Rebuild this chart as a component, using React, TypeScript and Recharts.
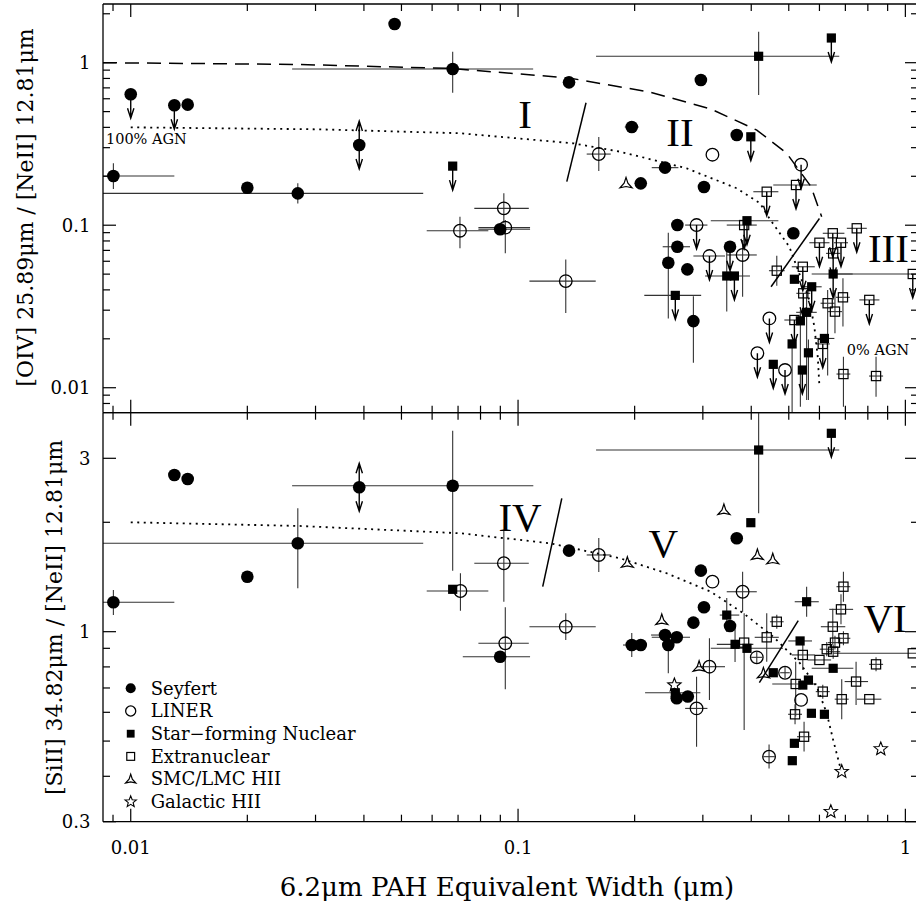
import React from "react";
import { ScatterChart, Scatter, XAxis, YAxis, ErrorBar, Legend } from "recharts";

type Pt = {
  x: number;
  y: number;
  xlo?: number;
  xhi?: number;
  ylo?: number;
  yhi?: number;
  lim?: "up" | "both";
};
type Txt = { x: number; y: number; text: string };

const FONT = '"DejaVu Serif", serif';
const ROMAN = '"Liberation Serif", "Times New Roman", serif';
const INK = "#000";
const BAR = "#333";

// shared x axis (6.2um PAH EW)
const X_DOMAIN: [number, number] = [0.00848, 1.078];
const X_TICKS = [0.009, 0.01, 0.02, 0.03, 0.04, 0.05, 0.06, 0.07, 0.08, 0.09, 0.1, 0.2, 0.3, 0.4, 0.5, 0.6, 0.7, 0.8, 0.9, 1];
const X_MAJOR = [0.01, 0.1, 1];

// top panel: [OIV]/[NeII]
const OIV_DOMAIN: [number, number] = [0.00702, 2.297];
const OIV_TICKS = [0.008, 0.009, 0.01, 0.02, 0.03, 0.04, 0.05, 0.06, 0.07, 0.08, 0.09, 0.1, 0.2, 0.3, 0.4, 0.5, 0.6, 0.7, 0.8, 0.9, 1, 2];
const OIV_MAJOR = [0.01, 0.1, 1];

// bottom panel: [SiII]/[NeII]
const SII_DOMAIN: [number, number] = [0.3, 4.005];
const SII_TICKS = [0.3, 0.4, 0.5, 0.6, 0.7, 0.8, 0.9, 1, 2, 3];
const SII_MAJOR = [0.3, 1, 3];

const oivSeyfert: Pt[] = [
  { x: 0.01, y: 0.639, lim: "up" },
  { x: 0.01296, y: 0.547, lim: "up" },
  { x: 0.01403, y: 0.552 },
  { x: 0.00902, y: 0.201, xlo: 0.00848, xhi: 0.01296, ylo: 0.167, yhi: 0.241 },
  { x: 0.02, y: 0.17 },
  { x: 0.027, y: 0.157, xlo: 0.00848, xhi: 0.0569, ylo: 0.136, yhi: 0.181 },
  { x: 0.048, y: 1.73 },
  { x: 0.0678, y: 0.915, xlo: 0.0261, xhi: 0.1094, ylo: 0.653, yhi: 1.169 },
  { x: 0.1354, y: 0.757 },
  { x: 0.0389, y: 0.3115, lim: "both" },
  { x: 0.0899, y: 0.0944, xlo: 0.079, xhi: 0.1074 },
  { x: 0.2965, y: 0.782 },
  { x: 0.1966, y: 0.402, xlo: 0.1886, xhi: 0.2049 },
  { x: 0.367, y: 0.359 },
  { x: 0.2396, y: 0.226, xlo: 0.2214, xhi: 0.2594 },
  { x: 0.2074, y: 0.181 },
  { x: 0.302, y: 0.1718 },
  { x: 0.2578, y: 0.1002 },
  { x: 0.2578, y: 0.0737, xlo: 0.2363, xhi: 0.278 },
  { x: 0.2443, y: 0.0588, ylo: 0.0267, yhi: 0.0899 },
  { x: 0.2736, y: 0.0535 },
  { x: 0.2836, y: 0.0257, ylo: 0.01425, yhi: 0.0366 },
  { x: 0.3526, y: 0.0737, lim: "up" },
  { x: 0.5137, y: 0.0892 },
];

const oivLiner: Pt[] = [
  { x: 0.1616, y: 0.274, xlo: 0.1504, xhi: 0.1735, ylo: 0.2156, yhi: 0.349 },
  { x: 0.0919, y: 0.127, xlo: 0.0771, xhi: 0.1066, ylo: 0.1028, yhi: 0.157 },
  { x: 0.0927, y: 0.0966, xlo: 0.079, xhi: 0.1074, ylo: 0.0671, yhi: 0.1078 },
  { x: 0.0708, y: 0.0925, xlo: 0.0581, xhi: 0.0838, ylo: 0.0722, yhi: 0.1128 },
  { x: 0.1328, y: 0.0453, xlo: 0.107, xhi: 0.1587, ylo: 0.0288, yhi: 0.0616 },
  { x: 0.3176, y: 0.2716 },
  { x: 0.538, y: 0.2357, lim: "up" },
  { x: 0.289, y: 0.1002, xlo: 0.27, xhi: 0.3083, lim: "up" },
  { x: 0.312, y: 0.0646, xlo: 0.2836, xhi: 0.3423, lim: "up" },
  { x: 0.38, y: 0.0656, xlo: 0.3458, xhi: 0.4134, ylo: 0.0363, yhi: 0.0811 },
  { x: 0.4456, y: 0.0267, lim: "up" },
  { x: 0.4149, y: 0.0163, lim: "up" },
  { x: 0.489, y: 0.01285, lim: "up" },
];

const oivNuclear: Pt[] = [
  { x: 0.0678, y: 0.231, lim: "up" },
  { x: 0.418, y: 1.095, xlo: 0.159, xhi: 0.675, ylo: 0.633, yhi: 1.552 },
  { x: 0.644, y: 1.419, lim: "up" },
  { x: 0.399, y: 0.35, lim: "up" },
  { x: 0.2547, y: 0.037, xlo: 0.2118, xhi: 0.297, lim: "up" },
  { x: 0.3458, y: 0.0487, xlo: 0.304, xhi: 0.397, ylo: 0.0294, yhi: 0.0737 },
  { x: 0.3619, y: 0.0487, lim: "up" },
  { x: 0.39, y: 0.1066, xlo: 0.3145, xhi: 0.47, lim: "up" },
  { x: 0.456, y: 0.01393, lim: "up" },
  { x: 0.542, y: 0.01285, lim: "up" },
  { x: 0.651, y: 0.0501, xlo: 0.573, xhi: 0.731, lim: "up" },
  { x: 0.517, y: 0.0465 },
  { x: 0.573, y: 0.0418, xlo: 0.54, xhi: 0.608, lim: "up" },
  { x: 0.556, y: 0.0291, xlo: 0.5225, xhi: 0.5905, ylo: 0.0084, yhi: 0.0399 },
  { x: 0.5357, y: 0.0258, ylo: 0.00764, yhi: 0.03 },
  { x: 0.618, y: 0.0201, xlo: 0.582, xhi: 0.6557 },
  { x: 0.51, y: 0.0186, ylo: 0.00705, yhi: 0.0186 },
  { x: 0.562, y: 0.0164, ylo: 0.0084, yhi: 0.0198 },
];

const oivExtra: Pt[] = [
  { x: 0.4386, y: 0.1607, xlo: 0.405, xhi: 0.47, lim: "up" },
  { x: 0.522, y: 0.1768, xlo: 0.456, xhi: 0.5905, lim: "up" },
  { x: 0.3835, y: 0.1002, xlo: 0.3458, xhi: 0.4134, lim: "up" },
  { x: 0.6, y: 0.078, xlo: 0.565, xhi: 0.637, lim: "up" },
  { x: 0.6495, y: 0.0892, xlo: 0.612, xhi: 0.696, lim: "up" },
  { x: 0.682, y: 0.078, xlo: 0.654, xhi: 0.711, lim: "up" },
  { x: 0.749, y: 0.0957, xlo: 0.706, xhi: 0.795, lim: "up" },
  { x: 0.651, y: 0.0671, xlo: 0.624, xhi: 0.679, lim: "up" },
  { x: 0.5435, y: 0.0555, xlo: 0.509, xhi: 0.5836, lim: "up" },
  { x: 0.4656, y: 0.0525, xlo: 0.4444, xhi: 0.488, ylo: 0.0424, yhi: 0.0648 },
  { x: 1.045, y: 0.0501, xlo: 0.65, xhi: 1.07, lim: "up" },
  { x: 0.545, y: 0.0381, xlo: 0.523, xhi: 0.568, lim: "up" },
  { x: 0.517, y: 0.0261, xlo: 0.487, xhi: 0.5485, lim: "up" },
  { x: 0.63, y: 0.0331, xlo: 0.604, xhi: 0.657, ylo: 0.0119, yhi: 0.0399 },
  { x: 0.69, y: 0.036, xlo: 0.662, xhi: 0.719, ylo: 0.0238, yhi: 0.0471 },
  { x: 0.658, y: 0.0294, xlo: 0.631, xhi: 0.686, ylo: 0.0216, yhi: 0.0399 },
  { x: 0.612, y: 0.0186, xlo: 0.587, xhi: 0.638, lim: "up" },
  { x: 0.692, y: 0.01214, xlo: 0.664, xhi: 0.721, ylo: 0.00764, yhi: 0.0155 },
  { x: 0.84, y: 0.0118, xlo: 0.806, xhi: 0.876, ylo: 0.0088, yhi: 0.0155 },
  { x: 0.807, y: 0.0347, xlo: 0.7606, xhi: 0.857, lim: "up" },
];

const oivSmc: Pt[] = [{ x: 0.19, y: 0.181 }];

// mixing curves and region dividers
const oivDashed = [
  { x: 0.00848, y: 1.0 }, { x: 0.0273, y: 0.975 }, { x: 0.0675, y: 0.921 }, { x: 0.1354, y: 0.805 },
  { x: 0.219, y: 0.66 }, { x: 0.3145, y: 0.519 }, { x: 0.4134, y: 0.385 }, { x: 0.494, y: 0.277 },
  { x: 0.5707, y: 0.1727 }, { x: 0.608, y: 0.1128 },
];
const oivDotted = [
  { x: 0.01, y: 0.4 }, { x: 0.0308, y: 0.389 }, { x: 0.0708, y: 0.368 }, { x: 0.139, y: 0.319 },
  { x: 0.1834, y: 0.2834 }, { x: 0.2727, y: 0.2237 }, { x: 0.367, y: 0.1687 }, { x: 0.4214, y: 0.1365 },
  { x: 0.4456, y: 0.11 }, { x: 0.5017, y: 0.0737 }, { x: 0.532, y: 0.0506 }, { x: 0.565, y: 0.0347 },
  { x: 0.582, y: 0.0238 }, { x: 0.594, y: 0.0155 }, { x: 0.6, y: 0.01015 },
];
const oivSplitA = [{ x: 0.1498, y: 0.567 }, { x: 0.1336, y: 0.1855 }];
const oivSplitB = [{ x: 0.6, y: 0.11 }, { x: 0.45, y: 0.0418 }];
const oivRegions: Txt[] = [
  { x: 0.1042, y: 0.4833, text: "I" },
  { x: 0.2619, y: 0.3762, text: "II" },
  { x: 0.904, y: 0.0721, text: "III" },
];
const oivNotes: Txt[] = [
  { x: 0.00863, y: 0.3378, text: "100% AGN" },
  { x: 0.706, y: 0.01706, text: "0% AGN" },
];

const siiSeyfert: Pt[] = [
  { x: 0.00902, y: 1.205, xlo: 0.00848, xhi: 0.01296, ylo: 1.111, yhi: 1.302 },
  { x: 0.01296, y: 2.699 },
  { x: 0.01403, y: 2.632 },
  { x: 0.02, y: 1.417 },
  { x: 0.027, y: 1.751, xlo: 0.00848, xhi: 0.0569, ylo: 1.316, yhi: 2.186 },
  { x: 0.0389, y: 2.497, lim: "both" },
  { x: 0.0678, y: 2.522, xlo: 0.0261, xhi: 0.1095, ylo: 1.472, yhi: 3.573 },
  { x: 0.0899, y: 0.853, xlo: 0.072, xhi: 0.1074 },
  { x: 0.1354, y: 1.671 },
  { x: 0.367, y: 1.807 },
  { x: 0.2965, y: 1.472 },
  { x: 0.302, y: 1.167 },
  { x: 0.2836, y: 1.059 },
  { x: 0.3526, y: 1.037 },
  { x: 0.2396, y: 0.979, xlo: 0.2205, xhi: 0.2604 },
  { x: 0.2569, y: 0.965, xlo: 0.2214, xhi: 0.278 },
  { x: 0.2443, y: 0.919, ylo: 0.768, yhi: 1.011 },
  { x: 0.1966, y: 0.919, xlo: 0.1866, xhi: 0.207, ylo: 0.852, yhi: 0.992 },
  { x: 0.2074, y: 0.919 },
  { x: 0.2569, y: 0.656 },
  { x: 0.2743, y: 0.663 },
];

const siiLiner: Pt[] = [
  { x: 0.071, y: 1.294, xlo: 0.0581, xhi: 0.0838, ylo: 1.142, yhi: 1.448 },
  { x: 0.0919, y: 1.543, xlo: 0.0771, xhi: 0.1066, ylo: 1.209, yhi: 1.892 },
  { x: 0.0927, y: 0.929, xlo: 0.079, xhi: 0.1066, ylo: 0.694, yhi: 1.167 },
  { x: 0.1328, y: 1.032, xlo: 0.107, xhi: 0.1587, ylo: 0.949, yhi: 1.124 },
  { x: 0.1616, y: 1.626, xlo: 0.1504, xhi: 0.1735, ylo: 1.459, yhi: 1.811 },
  { x: 0.3176, y: 1.373 },
  { x: 0.38, y: 1.288, xlo: 0.3458, xhi: 0.4134, ylo: 1.135, yhi: 1.463 },
  { x: 0.4134, y: 0.85, xlo: 0.4, xhi: 0.427, ylo: 0.82, yhi: 0.88 },
  { x: 0.312, y: 0.801, xlo: 0.289, xhi: 0.3423, ylo: 0.649, yhi: 0.959 },
  { x: 0.289, y: 0.615, xlo: 0.27, xhi: 0.3083, ylo: 0.4825, yhi: 0.752 },
  { x: 0.489, y: 0.771, xlo: 0.475, xhi: 0.503, ylo: 0.745, yhi: 0.8 },
  { x: 0.538, y: 0.649 },
  { x: 0.4447, y: 0.453, xlo: 0.43, xhi: 0.46, ylo: 0.42, yhi: 0.489 },
];

const siiNuclear: Pt[] = [
  { x: 0.418, y: 3.162, xlo: 0.159, xhi: 0.675, ylo: 2.118, yhi: 4.0 },
  { x: 0.644, y: 3.515, lim: "up" },
  { x: 0.399, y: 1.995 },
  { x: 0.0678, y: 1.308 },
  { x: 0.3458, y: 1.111, xlo: 0.3317, xhi: 0.3725, ylo: 0.998, yhi: 1.238 },
  { x: 0.3633, y: 0.923, xlo: 0.326, xhi: 0.405, ylo: 0.825, yhi: 1.037 },
  { x: 0.39, y: 0.9, xlo: 0.3145, xhi: 0.483 },
  { x: 0.2547, y: 0.679, xlo: 0.2128, xhi: 0.2956 },
  { x: 0.556, y: 1.209, xlo: 0.518, xhi: 0.5976, ylo: 1.1, yhi: 1.33 },
  { x: 0.5348, y: 0.943, xlo: 0.4986, xhi: 0.574 },
  { x: 0.651, y: 0.793, xlo: 0.573, xhi: 0.734 },
  { x: 0.456, y: 0.771 },
  { x: 0.562, y: 0.736 },
  { x: 0.5435, y: 0.713 },
  { x: 0.572, y: 0.5963 },
  { x: 0.618, y: 0.5925 },
  { x: 0.517, y: 0.493 },
  { x: 0.5106, y: 0.4416 },
];

const siiExtra: Pt[] = [
  { x: 0.692, y: 1.33, xlo: 0.664, xhi: 0.721, ylo: 1.209, yhi: 1.463 },
  { x: 0.682, y: 1.152, xlo: 0.636, xhi: 0.733, ylo: 1.048, yhi: 1.267 },
  { x: 0.6495, y: 1.032, xlo: 0.605, xhi: 0.6996, ylo: 0.921, yhi: 1.157 },
  { x: 0.692, y: 0.959, xlo: 0.664, xhi: 0.721, ylo: 0.918, yhi: 1.002 },
  { x: 0.658, y: 0.933, xlo: 0.631, xhi: 0.686, ylo: 0.893, yhi: 0.975 },
  { x: 0.6267, y: 0.895, xlo: 0.601, xhi: 0.653, ylo: 0.856, yhi: 0.936 },
  { x: 0.651, y: 0.881, xlo: 0.624, xhi: 0.679, ylo: 0.843, yhi: 0.921 },
  { x: 1.045, y: 0.872, xlo: 0.65, xhi: 1.07 },
  { x: 0.6, y: 0.836, xlo: 0.5593, xhi: 0.643 },
  { x: 0.84, y: 0.813, xlo: 0.806, xhi: 0.876, ylo: 0.778, yhi: 0.85 },
  { x: 0.746, y: 0.729, xlo: 0.697, xhi: 0.801, ylo: 0.628, yhi: 0.827 },
  { x: 0.685, y: 0.652, xlo: 0.657, xhi: 0.714, ylo: 0.574, yhi: 0.74 },
  { x: 0.807, y: 0.652, xlo: 0.7497, xhi: 0.867 },
  { x: 0.612, y: 0.684, xlo: 0.587, xhi: 0.638, ylo: 0.654, yhi: 0.715 },
  { x: 0.5435, y: 0.863, xlo: 0.509, xhi: 0.5836, ylo: 0.785, yhi: 0.949 },
  { x: 0.521, y: 0.718, xlo: 0.4532, xhi: 0.5905, ylo: 0.584, yhi: 0.827 },
  { x: 0.4656, y: 1.065, xlo: 0.447, xhi: 0.485, ylo: 1.019, yhi: 1.113 },
  { x: 0.4386, y: 0.965, xlo: 0.4083, xhi: 0.4712, ylo: 0.827, yhi: 1.124 },
  { x: 0.3835, y: 0.933, ylo: 0.536, yhi: 1.124 },
  { x: 0.5476, y: 0.514, xlo: 0.525, xhi: 0.571, ylo: 0.468, yhi: 0.565 },
  { x: 0.519, y: 0.5925, xlo: 0.498, xhi: 0.541, ylo: 0.556, yhi: 0.631 },
];

const siiSmc: Pt[] = [
  { x: 0.34, y: 2.162 },
  { x: 0.4149, y: 1.626 },
  { x: 0.4546, y: 1.582 },
  { x: 0.1915, y: 1.548 },
  { x: 0.235, y: 1.077 },
  { x: 0.2934, y: 0.801 },
  { x: 0.43, y: 0.768 },
];

const siiGalactic: Pt[] = [
  { x: 0.2533, y: 0.713 },
  { x: 0.864, y: 0.4756 },
  { x: 0.685, y: 0.412 },
  { x: 0.642, y: 0.3196 },
];

const siiDotted = [
  { x: 0.01, y: 2.0 }, { x: 0.0273, y: 1.954 }, { x: 0.0708, y: 1.866 }, { x: 0.1209, y: 1.751 },
  { x: 0.1834, y: 1.592 }, { x: 0.242, y: 1.448 }, { x: 0.3145, y: 1.288 }, { x: 0.3817, y: 1.124 },
  { x: 0.456, y: 0.969 }, { x: 0.5348, y: 0.818 }, { x: 0.5905, y: 0.706 }, { x: 0.6267, y: 0.5963 },
  { x: 0.651, y: 0.5035 }, { x: 0.6784, y: 0.425 }, { x: 0.683, y: 0.416 },
];
const siiSplitA = [{ x: 0.1297, y: 2.328 }, { x: 0.1158, y: 1.33 }];
const siiSplitB = [{ x: 0.529, y: 1.072 }, { x: 0.4198, y: 0.724 }];
const siiRegions: Txt[] = [
  { x: 0.1012, y: 2.073, text: "IV" },
  { x: 0.2372, y: 1.751, text: "V" },
  { x: 0.8863, y: 1.089, text: "VI" },
];

const CATEGORIES = ["Seyfert", "LINER", "Star\u2212forming Nuclear", "Extranuclear", "SMC/LMC HII", "Galactic HII"];

// ---------- marker drawing ----------
function starPath(cx: number, cy: number, n: number, ro: number, ri: number) {
  const pts: string[] = [];
  for (let i = 0; i < n * 2; i++) {
    const a = -Math.PI / 2 + (i * Math.PI) / n;
    const r = i % 2 === 0 ? ro : ri;
    pts.push(`${(cx + r * Math.cos(a)).toFixed(2)},${(cy + r * Math.sin(a)).toFixed(2)}`);
  }
  return `M${pts.join("L")}Z`;
}

function marker(kind: number, cx: number, cy: number, s = 1) {
  switch (kind) {
    case 0:
      return <circle cx={cx} cy={cy} r={6.3 * s} fill={INK} />;
    case 1:
      return <circle cx={cx} cy={cy} r={6.3 * s} fill="none" stroke={INK} strokeWidth={1.3} />;
    case 2:
      return <rect x={cx - 4.6 * s} y={cy - 4.6 * s} width={9.2 * s} height={9.2 * s} fill={INK} />;
    case 3:
      return <rect x={cx - 4.6 * s} y={cy - 4.6 * s} width={9.2 * s} height={9.2 * s} fill="none" stroke={INK} strokeWidth={1.2} />;
    case 4:
      return <path d={starPath(cx, cy + 1, 3, 7 * s, 2.2 * s)} fill="none" stroke={INK} strokeWidth={1.2} />;
    default:
      return <path d={starPath(cx, cy, 5, 7 * s, 3 * s)} fill="none" stroke={INK} strokeWidth={1.1} />;
  }
}

function arrows(cx: number, cy: number, lim?: string) {
  if (!lim) return null;
  const L = 24;
  const down = `M${cx},${cy} V${cy + L} M${cx - 3.2},${cy + L - 10} L${cx},${cy + L} L${cx + 3.2},${cy + L - 10}`;
  const up = `M${cx},${cy} V${cy - L} M${cx - 3.2},${cy - L + 10} L${cx},${cy - L} L${cx + 3.2},${cy - L + 10}`;
  return <path d={lim === "both" ? `${down} ${up}` : down} fill="none" stroke={INK} strokeWidth={1.4} />;
}

const shapeFor = (kind: number) => (p: any) => (
  <g>
    {arrows(p.cx, p.cy, p.payload?.lim)}
    {marker(kind, p.cx, p.cy)}
  </g>
);

const EMPTY = () => <g />;

const romanShape = (p: any) => (
  <text x={p.cx} y={p.cy + 14} textAnchor="middle" fontFamily={ROMAN} fontSize={41} fill={INK}>
    {p.payload.text}
  </text>
);
const noteShape = (p: any) => (
  <text x={p.cx} y={p.cy + 5} textAnchor="start" fontFamily={FONT} fontSize={14.5} fill={INK}>
    {p.payload.text}
  </text>
);

// ---------- axes ----------
type Side = "top" | "bottom" | "left" | "right";
const makeTick = (side: Side, major: number[], labels: boolean) => (props: any) => {
  const { x, y, payload } = props;
  const v = payload.value as number;
  const isMajor = major.includes(v);
  const len = isMajor ? 13 : 7;
  const c =
    side === "bottom" ? [x, y, x, y - len]
    : side === "top" ? [x, y, x, y + len]
    : side === "left" ? [x, y, x + len, y]
    : [x, y, x - len, y];
  let label = null;
  if (labels && isMajor) {
    label =
      side === "bottom" ? (
        <text x={x} y={y + 32.3} textAnchor="middle" fontFamily={FONT} fontSize={18} fill={INK}>{String(v)}</text>
      ) : (
        <text x={x - 12.5} y={y + 6.5} textAnchor="end" fontFamily={FONT} fontSize={18} fill={INK}>{String(v)}</text>
      );
  }
  return (
    <g>
      <line x1={c[0]} y1={c[1]} x2={c[2]} y2={c[3]} stroke={INK} strokeWidth={1.2} />
      {label}
    </g>
  );
};

const AXIS_LINE = { stroke: INK, strokeWidth: 1.3 };

// axes need a non-zero box to be drawn, so each one is 1px thick and the margins absorb it
function frame(
  yDomain: [number, number],
  yTicks: number[],
  yMajor: number[],
  xLabels: boolean,
  yTitle: (p: any) => React.ReactElement,
  xTitle?: (p: any) => React.ReactElement
) {
  const common = { type: "number" as const, scale: "log" as const, allowDataOverflow: true, interval: 0, tickSize: 0, tickMargin: 0, tickLine: false, axisLine: AXIS_LINE };
  return [
    <XAxis key="xb" dataKey="x" domain={X_DOMAIN} ticks={X_TICKS} height={1} tick={makeTick("bottom", X_MAJOR, xLabels)} label={xTitle} {...common} />,
    <XAxis key="xt" xAxisId="top" orientation="top" dataKey="x" domain={X_DOMAIN} ticks={X_TICKS} height={1} tick={makeTick("top", X_MAJOR, false)} {...common} />,
    <YAxis key="yl" dataKey="y" domain={yDomain} ticks={yTicks} width={1} tick={makeTick("left", yMajor, true)} label={yTitle} {...common} />,
    <YAxis key="yr" yAxisId="right" orientation="right" dataKey="y" domain={yDomain} ticks={yTicks} width={1} tick={makeTick("right", yMajor, false)} {...common} />,
  ];
}

function series(id: string, data: Pt[], kind: number) {
  const rows = data.map((p) => ({
    ...p,
    ex: p.xlo !== undefined ? [p.x - p.xlo, (p.xhi ?? p.x) - p.x] : undefined,
    ey: p.ylo !== undefined ? [p.y - p.ylo, (p.yhi ?? p.y) - p.y] : undefined,
  }));
  return (
    <Scatter key={id} name={id} data={rows} shape={shapeFor(kind)} isAnimationActive={false}>
      <ErrorBar dataKey="ex" direction="x" width={0} stroke={BAR} strokeWidth={1.1} isAnimationActive={false} />
      <ErrorBar dataKey="ey" direction="y" width={0} stroke={BAR} strokeWidth={1.1} isAnimationActive={false} />
    </Scatter>
  );
}

function curve(id: string, data: { x: number; y: number }[], dash?: string, w = 1.4) {
  return (
    <Scatter
      key={id}
      data={data}
      shape={EMPTY}
      line={{ stroke: INK, strokeWidth: w, strokeDasharray: dash }}
      lineType="joint"
      isAnimationActive={false}
    />
  );
}

const oivTitle = () => (
  <text x={33} y={207.5} transform="rotate(-90 33 207.5)" textAnchor="middle" fontFamily={FONT} fontSize={22} fill={INK}>
    [OIV] 25.89μm / [NeII] 12.81μm
  </text>
);
const siiTitle = () => (
  <text x={62} y={217.5} transform="rotate(-90 62 217.5)" textAnchor="middle" fontFamily={FONT} fontSize={22} fill={INK}>
    [SiII] 34.82μm / [NeII] 12.81μm
  </text>
);
const xTitle = () => (
  <text x={507} y={496} textAnchor="middle" fontFamily={FONT} fontSize={26} fill={INK}>
    6.2μm PAH Equivalent Width (μm)
  </text>
);

const LegendBox = () => (
  <svg width={260} height={140}>
    {CATEGORIES.map((name, i) => {
      const cy = 11.3 + i * 22.7;
      return (
        <g key={name}>
          {marker(i, 10.7, cy, i === 0 || i === 1 ? 0.8 : 0.85)}
          <text x={30.7} y={cy + 6.3} fontFamily={FONT} fontSize={18} fill={INK}>{name}</text>
        </g>
      );
    })}
  </svg>
);

export default function App() {
  return (
    <div style={{ position: "absolute", left: 0, top: 0, width: 916, height: 910, overflow: "hidden", background: "#fff" }}>
      <div style={{ position: "absolute", left: 0, top: 0 }}>
        <ScatterChart width={920} height={420} margin={{ top: 3, right: 1, bottom: 6.3, left: 102 }}>
          {frame(OIV_DOMAIN, OIV_TICKS, OIV_MAJOR, false, oivTitle)}
          {curve("oivDashed", oivDashed, "14 8", 1.5)}
          {curve("oivDotted", oivDotted, "2 4.5", 1.8)}
          {curve("oivSplitA", oivSplitA, undefined, 1.5)}
          {curve("oivSplitB", oivSplitB, undefined, 1.5)}
          {series("oivSeyfert", oivSeyfert, 0)}
          {series("oivLiner", oivLiner, 1)}
          {series("oivNuclear", oivNuclear, 2)}
          {series("oivExtra", oivExtra, 3)}
          {series("oivSmc", oivSmc, 4)}
          <Scatter data={oivRegions} shape={romanShape} isAnimationActive={false} />
          <Scatter data={oivNotes} shape={noteShape} isAnimationActive={false} />
        </ScatterChart>
      </div>
      <div style={{ position: "absolute", left: 0, top: 400 }}>
        <ScatterChart width={920} height={510} margin={{ top: 11.7, right: 1, bottom: 87.3, left: 102 }}>
          {frame(SII_DOMAIN, SII_TICKS, SII_MAJOR, true, siiTitle, xTitle)}
          {curve("siiDotted", siiDotted, "2 4.5", 1.8)}
          {curve("siiSplitA", siiSplitA, undefined, 1.5)}
          {curve("siiSplitB", siiSplitB, undefined, 1.5)}
          {series("siiSeyfert", siiSeyfert, 0)}
          {series("siiLiner", siiLiner, 1)}
          {series("siiNuclear", siiNuclear, 2)}
          {series("siiExtra", siiExtra, 3)}
          {series("siiSmc", siiSmc, 4)}
          {series("siiGalactic", siiGalactic, 5)}
          <Scatter data={siiRegions} shape={romanShape} isAnimationActive={false} />
          <Legend
            layout="vertical"
            align="center"
            verticalAlign="middle"
            wrapperStyle={{ left: 120, top: 277, width: 260, height: 140 }}
            content={() => <LegendBox />}
          />
        </ScatterChart>
      </div>
    </div>
  );
}
